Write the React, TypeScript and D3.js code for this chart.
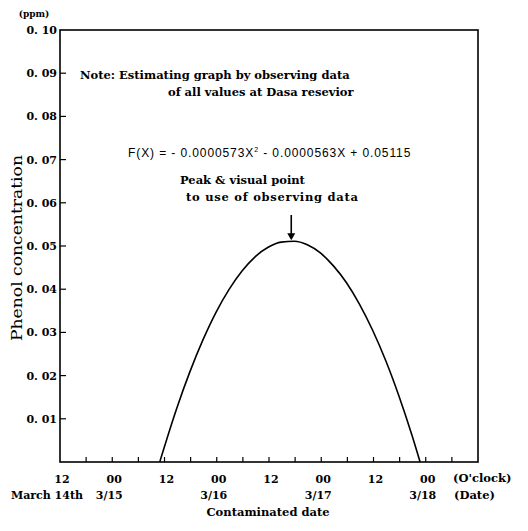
import React from 'react';
import * as d3 from 'd3';

// hours counted from March 14th 12 o'clock
const hours = [22.9, 26.8, 29.8, 32.8, 35.8, 38.8, 41.8, 44.8, 47.8, 50.8, 53.8, 56.8, 59.8, 62.8, 65.8, 68.8, 71.8, 74.8, 77.8, 80.8, 82.7];
const phenol = [0, 0.0124, 0.0208, 0.0282, 0.0346, 0.0399, 0.0442, 0.0475, 0.0497, 0.0509, 0.0511, 0.0503, 0.0484, 0.0454, 0.0415, 0.0365, 0.0305, 0.0235, 0.0154, 0.0063, 0];

const yTicks = [0.01, 0.02, 0.03, 0.04, 0.05, 0.06, 0.07, 0.08, 0.09, 0.10];
const yTickLabels = ['0. 01', '0. 02', '0. 03', '0. 04', '0. 05', '0. 06', '0. 07', '0. 08', '0. 09', '0. 10'];
const minorHours = [6, 12, 18, 24, 30, 36, 42, 48, 54, 60, 66, 72, 78, 84, 90];
const clockHours = [0, 12, 24, 36, 48, 60, 72, 84];
const clockLabels = ['12', '00', '12', '00', '12', '00', '12', '00'];
const dateHours = [12, 36, 60, 84];
const dateLabels = ['3/15', '3/16', '3/17', '3/18'];

const serif = '"DejaVu Serif", serif';
const sans = '"Liberation Sans", Arial, sans-serif';

export default function App() {
  const width = 528, height = 531;
  const margin = { top: 30, right: 50, bottom: 69, left: 60 };
  const x0 = margin.left, x1 = width - margin.right;
  const y0 = height - margin.bottom, y1 = margin.top;

  const x = d3.scaleLinear().domain([0, 96]).range([x0, x1]);
  const y = d3.scaleLinear().domain([0, 0.1]).range([y0, y1]);

  const pts = hours.map((h, i) => [h, phenol[i]] as [number, number]);
  const line = d3.line<[number, number]>()
    .x(d => x(d[0]))
    .y(d => y(d[1]))
    .curve(d3.curveMonotoneX);

  const peakIdx = d3.maxIndex(phenol);
  const peakX = x(hours[peakIdx]) - 3;
  const peakY = y(phenol[peakIdx]);

  return (
    <svg width={width} height={height} style={{ position: 'absolute', left: 0, top: 0, background: '#fff' }}>
      {/* frame */}
      <rect x={x0} y={y1} width={x1 - x0} height={y0 - y1} fill="none" stroke="#000" strokeWidth={1.6} />

      {/* y ticks */}
      {yTicks.map((t, i) => (
        <g key={'y' + i}>
          {i < yTicks.length - 1 && <line x1={x0} x2={x0 + 6} y1={y(t)} y2={y(t)} stroke="#000" strokeWidth={1.2} />}
          <text x={x0 - 3} y={y(t) + 4} textAnchor="end" fontFamily={serif} fontWeight="bold" fontSize={11}>{yTickLabels[i]}</text>
        </g>
      ))}
      <text x={34} y={17} textAnchor="middle" fontFamily={serif} fontWeight="bold" fontSize={9}>(ppm)</text>
      <text transform="translate(22,248) rotate(-90)" textAnchor="middle" fontFamily={serif} fontSize={14}
            textLength={186} lengthAdjust="spacingAndGlyphs">Phenol concentration</text>

      {/* x ticks */}
      {minorHours.map(h => (
        <line key={'x' + h} x1={x(h)} x2={x(h)} y1={y0} y2={y0 - 5} stroke="#000" strokeWidth={1.2} />
      ))}
      {clockHours.map((h, i) => (
        <text key={'c' + i} x={x(h) + 2} y={y0 + 21} textAnchor="middle" fontFamily={serif} fontWeight="bold" fontSize={11}>{clockLabels[i]}</text>
      ))}
      {dateHours.map((h, i) => (
        <text key={'d' + i} x={x(h) - 3} y={y0 + 37} textAnchor="middle" fontFamily={serif} fontWeight="bold" fontSize={11}>{dateLabels[i]}</text>
      ))}
      <text x={11} y={y0 + 37} fontFamily={serif} fontWeight="bold" fontSize={11}>March 14th</text>
      <text x={453} y={y0 + 20} fontFamily={serif} fontWeight="bold" fontSize={11.5}>(O'clock)</text>
      <text x={454} y={y0 + 37} fontFamily={serif} fontWeight="bold" fontSize={11.5}>(Date)</text>
      <text x={x(48) - 1} y={y0 + 54} textAnchor="middle" fontFamily={serif} fontWeight="bold" fontSize={11.5}>Contaminated date</text>

      {/* curve */}
      <path d={line(pts) || ''} fill="none" stroke="#000" strokeWidth={1.6} />

      {/* annotations */}
      <text x={80} y={79} fontFamily={serif} fontWeight="bold" fontSize={11.5}>Note: Estimating graph by observing data</text>
      <text x={168} y={96} fontFamily={serif} fontWeight="bold" fontSize={11.5}>of all values at Dasa resevior</text>
      <text x={128} y={157} fontFamily={sans} fontSize={12} letterSpacing={0.9}>
        F(X) = - 0.0000573X<tspan dy={-5} fontSize={7}>2</tspan><tspan dy={5}> - 0.0000563X + 0.05115</tspan>
      </text>
      <text x={180} y={184} fontFamily={serif} fontWeight="bold" fontSize={11.5}>Peak &amp; visual point</text>
      <text x={186} y={201} fontFamily={serif} fontWeight="bold" fontSize={11.5} textLength={172}>to use of observing data</text>
      <line x1={peakX} x2={peakX} y1={215} y2={peakY - 6} stroke="#000" strokeWidth={1.6} />
      <path d={`M${peakX - 4},${peakY - 8} L${peakX + 4},${peakY - 8} L${peakX},${peakY - 1} Z`} fill="#000" />
    </svg>
  );
}
